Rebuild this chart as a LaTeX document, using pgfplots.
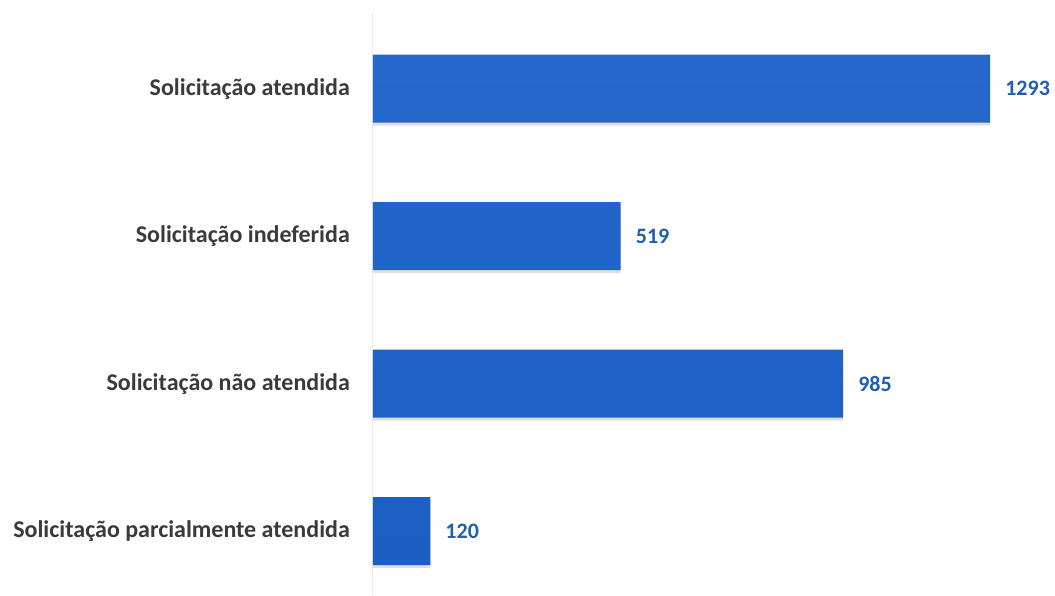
\documentclass[border=0pt]{standalone}
\usepackage{pgfplots}
\pgfplotsset{compat=1.18}
\usepackage{fontspec}
\setmainfont{Carlito}
\definecolor{bartop}{HTML}{2468CC}
\definecolor{barbot}{HTML}{1C5FC4}
\definecolor{valblue}{HTML}{1F5FAF}
\definecolor{labgray}{HTML}{3A3A3A}
\begin{document}
\begin{tikzpicture}
\begin{axis}[
  scale only axis, width=682pt, height=584pt,
  xmin=0, xmax=1429, ymin=-0.44, ymax=3.52,
  xbar, bar width=68pt,
  axis line style={draw=none},
  xtick=\empty,
  ytick={0,1,2,3},
  yticklabels={Solicitação parcialmente atendida, Solicitação não atendida, Solicitação indeferida, Solicitação atendida},
  major tick length=0pt,
  yticklabel style={font=\fontsize{24}{28}\selectfont\bfseries, text=labgray, anchor=east, inner sep=0pt, xshift=-23pt},
  /pgf/number format/assume math mode=true,
  /pgf/number format/1000 sep={},
  clip=false,
]
\draw[gray!30, densely dotted, line width=1pt] (axis cs:0,-0.44) -- (axis cs:0,3.52);
\addplot[draw=none, fill=black!25, opacity=0.5, bar shift=-3pt, forget plot] coordinates {(120,0) (985,1) (519,2) (1293,3)};
\addplot[draw=none, top color=bartop, bottom color=barbot,
  nodes near coords,
  nodes near coords style={font=\fontsize{22}{26}\selectfont\bfseries, text=valblue, anchor=west, inner sep=0pt, xshift=15pt}]
  coordinates {(120,0) (985,1) (519,2) (1293,3)};
\end{axis}
\pgfresetboundingbox
\path ([xshift=-373pt]current axis.south west) rectangle ([yshift=12pt]current axis.north east);
\end{tikzpicture}
\end{document}
